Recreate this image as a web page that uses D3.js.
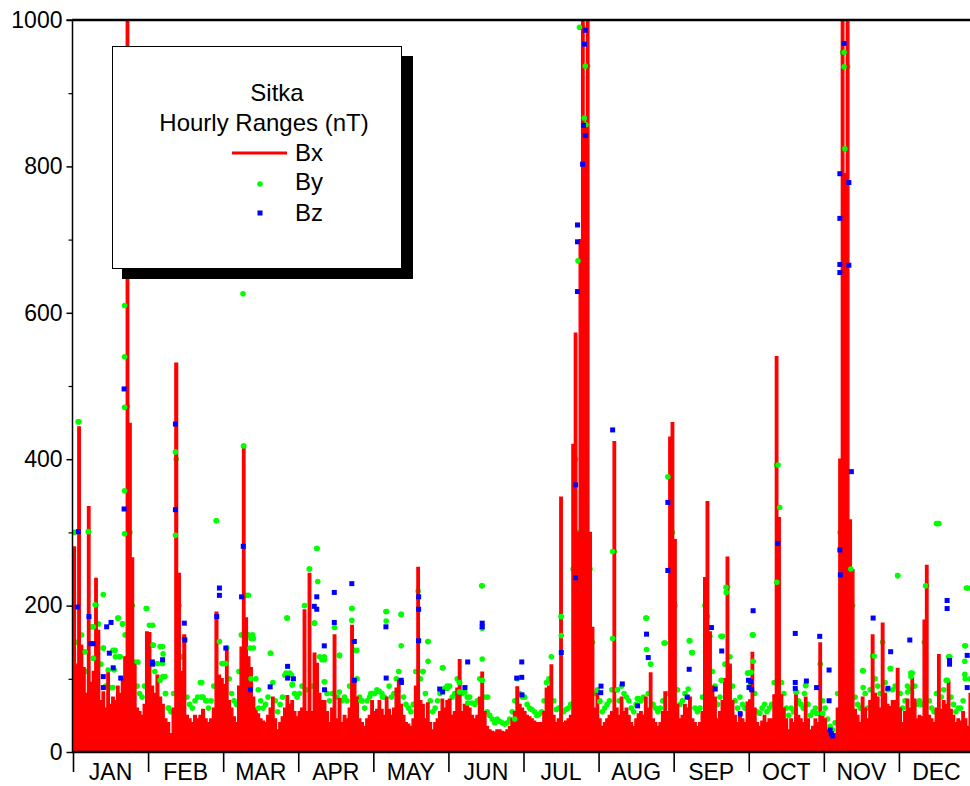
<!DOCTYPE html>
<html>
<head>
<meta charset="utf-8">
<script src="https://cdn.jsdelivr.net/npm/d3@7/dist/d3.min.js"></script>
<style>
  html, body { margin: 0; padding: 0; background: #fff; }
  svg { display: block; font-family: "Liberation Sans", Arial, sans-serif; }
</style>
</head>
<body>
<svg id="chart" width="970" height="786"></svg>
<script>
// ---------- DATA ----------
const months = ["JAN","FEB","MAR","APR","MAY","JUN","JUL","AUG","SEP","OCT","NOV","DEC"];
const daysInMonth = [31,28,31,30,31,30,31,31,30,31,30,31];
const yTicks = [0, 200, 400, 600, 800, 1000];
const title = ["Sitka", "Hourly Ranges (nT)"];
const seriesNames = ["Bx", "By", "Bz"];

// Bx: daily maximum of hourly ranges (nT), one value per day
const bxJan = [280,120,444,146,115,80,335,95,110,237,166,70,82,60,108,65,75,70,90,80,100,130,1100,449,265,120,60,55,50,65,164];
const bxFeb = [163,90,80,105,75,65,45,40,25,60,531,244,110,160,50,45,40,50,45,50,58,45,40,45,60,191,105,100];
const bxMar = [92,139,70,60,48,40,90,143,419,183,130,115,75,60,52,45,42,40,50,60,75,45,30,40,48,60,77,65,70,55,48];
const bxApr = [55,60,194,55,244,55,135,121,80,70,70,55,40,60,160,45,73,40,50,45,60,173,98,75,45,40,35,45,50,70];
const bxMay = [55,58,70,58,50,75,58,50,60,87,98,65,50,40,38,35,45,90,252,70,65,45,67,40,30,40,45,55,72,60,70];
const bxJun = [72,50,55,87,126,55,65,67,60,50,45,50,75,109,55,35,30,28,27,30,30,28,27,30,35,45,55,89,65,60];
const bxJul = [55,50,48,45,42,40,40,40,55,87,90,119,50,40,45,348,40,42,45,50,420,572,300,700,1100,860,1100,300,170,60,80];
const bxAug = [45,35,40,45,50,55,424,60,50,75,55,60,50,40,35,45,52,55,50,75,60,108,45,40,35,40,55,82,55,430,450];
const bxSep = [290,65,45,50,65,60,75,45,40,35,40,55,238,342,164,90,75,45,55,70,100,266,120,70,50,40,55,45,40,68];
const bxOct = [71,136,60,40,35,42,50,40,45,45,78,540,320,78,60,45,30,45,40,85,50,45,40,75,45,30,35,45,40,149,55];
const bxNov = [45,30,25,20,25,60,400,1100,790,1100,317,249,58,50,40,75,60,45,70,160,80,75,60,176,80,65,62,70,70,114];
const bxDec = [60,40,55,72,60,101,72,45,50,48,180,255,50,45,40,60,133,58,70,65,97,58,50,40,45,42,55,45,35,80,70];

// By: daily maximum of hourly ranges (nT)
const byJan = [300,150,451,160,137,110,301,171,128,201,175,120,142,90,112,88,139,130,183,130,175,160,472,300,200,123,90,80,75,90,196];
const byFeb = [173,146,110,121,144,103,80,60,55,80,400,200,130,155,75,65,60,70,75,95,75,70,60,70,90,316,151,121];
const byMar = [121,142,100,80,70,65,110,160,418,214,160,155,142,100,85,70,60,65,75,135,95,70,55,65,75,105,183,108,92,80,75];
const byApr = [80,90,200,85,250,90,176,278,130,126,96,80,70,80,170,75,132,70,75,70,90,196,139,100,75,70,60,70,75,80];
const byMay = [80,85,83,80,75,192,90,75,80,100,110,188,75,65,60,55,65,110,220,100,110,80,151,70,55,60,70,80,115,87,90];
const byJun = [90,75,80,100,95,80,82,75,75,67,65,70,100,227,75,55,50,45,40,45,42,40,38,40,45,55,70,100,80,75];
const byJul = [75,65,60,58,55,50,52,55,70,95,100,130,70,58,60,185,55,58,60,65,250,400,300,671,990,866,937,250,150,80,85];
const byAug = [70,55,60,65,70,85,274,85,70,90,80,75,70,60,55,65,73,70,75,183,80,120,65,60,55,60,70,149,80,376,300];
const bySep = [200,85,65,70,80,75,152,136,60,55,60,75,200,185,158,110,90,65,75,158,120,225,130,90,70,60,75,65,60,108];
const byOct = [90,160,80,55,53,60,65,55,60,65,95,392,334,95,80,60,50,60,55,82,70,65,60,91,65,50,55,60,53,120,70];
const byNov = [60,45,35,30,40,80,300,956,824,936,250,200,75,65,60,111,80,60,85,131,100,90,80,150,95,85,114,85,90,241];
const byDec = [80,60,70,90,85,108,90,65,70,65,150,227,70,60,55,80,312,75,85,98,130,75,65,55,60,60,70,145,224,100,90];

// By: other notable hourly values  [month index, day position in month, nT]
const byHours = [
  [0,2.1,451],[0,12.5,215],[0,18.7,183],[0,20.4,175],[0,17.4,139],[0,19.1,130],[0,12.5,142],[0,8.4,171],[0,9.1,201],
  [0,6.3,301],[0,5,137],[0,8.4,128],[0,17,112],[0,16.5,88],[0,26.8,123],[0,30.2,196],[0,21.3,540],[0,21.3,471],
  [0,21.3,357],[0,21.3,298],[0,21.3,610],
  [1,1.7,173],[1,1.9,146],[1,5.4,144],[1,5.6,134],[1,5.4,121],[1,4.5,98],[1,6.3,103],[1,6.5,80],[1,7.7,60],[1,20,95],
  [1,19.8,75],[1,21.9,70],[1,25.4,316],[1,26.6,151],[1,10.2,410],[1,10.2,296],
  [2,0,121],[2,1.1,121],[2,8.2,626],[2,8.4,418],[2,10.4,214],[2,12.2,160],[2,12.5,155],[2,11.1,142],[2,11.5,100],
  [2,14.6,60],[2,19.6,135],[2,26.3,183],[2,28.2,105],[2,26,108],[2,28.6,92],
  [3,7.4,278],[3,4.4,250],[3,7.8,233],[3,6.4,176],[3,10.4,130],[3,10.5,126],[3,10.4,96],[3,16.4,132],[3,21.4,196],
  [3,21.4,180],[3,23.4,139],[3,16.4,82],[3,29,80],[3,25,70],
  [4,2,83],[4,5.2,192],[4,5.3,179],[4,11.5,188],[4,11.5,145],[4,3.7,75],[4,22.6,151],[4,22.6,124],[4,20.5,110],
  [4,28.8,115],[4,30.5,87],
  [5,4.3,95],[5,4.4,82],[5,7.7,67],[5,13.3,227],[5,13.5,169],[5,13.5,127],[5,13.5,98],[5,15.7,75],[5,26.5,45],
  [6,15.6,185],[6,15.6,159],[6,23.1,990],[6,25.5,937],[6,25.1,866],[6,25.8,857],[6,22.5,671],
  [7,19.8,183],[7,19.8,140],[7,27,149],[7,28.6,376],[7,0.5,69],[7,7.8,85],[7,16,73],[7,5.8,274],[7,5.8,155],
  [8,6.2,152],[8,7.2,136],[8,5.8,86],[8,18.9,158],[8,20.9,225],[8,21,218],[8,19,98],[8,29.9,108],
  [9,1.8,160],[9,1.8,124],[9,1.0,109],[9,4.5,53],[9,12.8,334],[9,12.1,392],[9,11.6,232],[9,19.6,82],[9,23.5,91],
  [9,23.0,80],[9,28,53],[9,30.5,53],
  [10,8.1,956],[10,8.1,936],[10,8.4,824],[10,10.8,250],[10,15.7,111],[10,15.7,88],[10,20.1,131],[10,26.7,114],[10,29.5,241],
  [11,4.9,108],[11,5,103],[11,3.6,82],[11,11,227],[11,15.5,312],[11,20,98],[11,21,130],[11,27.2,145],[11,27.9,224],
  [11,27.2,124],[11,27.2,106],[11,27.4,100]
];

// Bz: notable hourly values  [month index, day position in month, nT]
const bzHours = [
  [0,2.2,301],[0,1.8,198],[0,6.6,185],[0,7.4,148],[0,8.3,148],[0,12.5,103],[0,13.9,171],[0,15.7,177],[0,15,135],
  [0,16.6,115],[0,19.7,101],[0,21.1,496],[0,21.1,332],[0,12.5,88],
  [1,1.6,123],[1,1.7,120],[1,5.4,126],[1,10.2,448],[1,10.2,331],[1,13.5,176],[1,13.7,153],[1,26.6,224],[1,26.6,214],[1,25.6,185],
  [2,1.1,142],[2,8.3,281],[2,7.6,212],[2,11.3,85],[2,19.4,89],[2,26.6,117],[2,26.6,101],[2,29,100],
  [3,6.4,199],[3,7.4,212],[3,7.4,195],[3,14.4,218],[3,14.4,177],[3,10.4,145],[3,10.5,85],[3,21.4,230],[3,22.4,151],[3,22.4,98],
  [4,5.2,171],[4,5.3,101],[4,11.5,98],[4,11.6,95],[4,18.7,212],[4,18.7,195],[4,18.7,152],[4,27.4,86],[4,28.6,82],
  [5,6.6,88],[5,7.7,123],[5,13.5,176],[5,13.5,171],[5,29.3,123],[5,27.3,101],[5,29.3,102],[5,29.4,78],
  [6,15.6,136],[6,21.5,365],[6,21.5,238],[6,25.5,986],[6,25.2,967],[6,24.8,856],[6,25.5,842],[6,24.4,803],
  [6,22.3,720],[6,22.3,697],[6,22.3,629],
  [7,5.8,440],[7,1,90],[7,0.9,81],[7,9.8,93],[7,19.8,161],[7,20.5,129],[7,16.1,63],[7,28.6,341],[7,28.6,248],
  [8,6.2,113],[8,5.4,75],[8,15.1,170],[8,19.2,138],[8,16.6,86],[8,29.9,98],[8,26.6,52],
  [9,0.1,88],[9,1.8,193],[9,0.8,96],[9,1.2,85],[9,12,285],[9,19.2,162],[9,19.2,95],[9,19.2,87],[9,23.8,97],
  [9,29.3,158],[9,28.0,88],
  [10,2.1,112],[10,2.1,70],[10,2.5,30],[10,3,25],[10,3.5,22],[10,11,383],[10,19.7,183],[10,26.7,137],[10,25.6,87],
  [10,6.4,276],[10,6.6,242],[10,8.1,968],[10,6.4,790],[10,10,778],[10,6.4,729],[10,6.4,666],[10,10,665],[10,6.4,655],
  [11,4.5,153],[11,19.9,207],[11,19.9,196],[11,20.9,120],[11,20.9,125],[11,28.2,132],[11,28.2,88]
];

const bxMonths = [bxJan,bxFeb,bxMar,bxApr,bxMay,bxJun,bxJul,bxAug,bxSep,bxOct,bxNov,bxDec];
const byMonths = [byJan,byFeb,byMar,byApr,byMay,byJun,byJul,byAug,bySep,byOct,byNov,byDec];

// ---------- BUILD ----------
const svg = d3.select("#chart");
const W = 970, H = 786;
const m = {left: 73, right: -4, top: 20, bottom: 34};
const x = d3.scaleLinear().domain([0, 12]).range([m.left, W - m.right]);
const y = d3.scaleLinear().domain([0, 1000]).range([H - m.bottom, m.top]);

function daily(arrs) {
  const out = [];
  arrs.forEach((arr, mi) => {
    const nd = daysInMonth[mi];
    arr.forEach((v, d) => out.push({t: mi + (d + 0.5) / nd, v}));
  });
  return out;
}
const bx = daily(bxMonths);
const by = daily(byMonths);
const tOf = (mi, d) => mi + d / daysInMonth[mi];

svg.append("defs").append("clipPath").attr("id", "plot")
  .append("rect").attr("x", m.left).attr("y", m.top)
  .attr("width", W - m.left).attr("height", y(0) - m.top);

const g = svg.append("g").attr("clip-path", "url(#plot)");

// By daily maxima (behind Bx)
g.append("g").selectAll("circle").data(by).join("circle")
  .attr("cx", d => x(d.t)).attr("cy", d => y(d.v)).attr("r", 2.8)
  .attr("fill", "#00ff00");

// Bx
const bxExt = [{t: 0, v: bx[0].v}, ...bx, {t: 12, v: bx[bx.length - 1].v}];
g.append("path").datum(bxExt)
  .attr("d", d3.area().x(d => x(d.t)).y0(y(0)).y1(d => y(d.v)).curve(d3.curveStep))
  .attr("fill", "#ff0000");
g.append("path").datum(bxExt)
  .attr("d", d3.line().x(d => x(d.t)).y(d => y(d.v)).curve(d3.curveStep))
  .attr("fill", "none").attr("stroke", "#ff0000").attr("stroke-width", 1.4);

// By hourly points on top
g.append("g").selectAll("circle").data(byHours).join("circle")
  .attr("cx", d => x(tOf(d[0], d[1]))).attr("cy", d => y(d[2])).attr("r", 2.8)
  .attr("fill", "#00ff00");

// Bz squares
g.append("g").selectAll("rect").data(bzHours).join("rect")
  .attr("x", d => x(tOf(d[0], d[1])) - 2.5).attr("y", d => y(d[2]) - 2.5)
  .attr("width", 5).attr("height", 5).attr("fill", "#0000ff");

// ---------- AXES ----------
const yAxis = svg.append("g").attr("transform", `translate(${m.left - 0.5},0)`)
  .call(d3.axisLeft(y).tickValues(yTicks).tickSize(6).tickPadding(4).tickFormat(d3.format("d")));
yAxis.select(".domain").attr("stroke", "#000").attr("stroke-width", 1.5);
yAxis.selectAll(".tick line").attr("stroke", "#000").attr("stroke-width", 1.5);
yAxis.selectAll(".tick text").attr("font-size", 23).attr("fill", "#000")
  .attr("font-family", "'Liberation Sans', Arial, sans-serif");
yAxis.select(".domain").attr("d", `M-6,${y(1000)}H0V${y(0)}`);

const yMinor = svg.append("g").attr("transform", `translate(${m.left - 0.5},0)`)
  .call(d3.axisLeft(y).tickValues(d3.range(100, 1000, 200)).tickSize(4).tickFormat(""));
yMinor.select(".domain").remove();
yMinor.selectAll(".tick line").attr("stroke", "#000").attr("stroke-width", 1.2);

// top frame
svg.append("line").attr("x1", m.left - 1).attr("x2", W).attr("y1", y(1000)).attr("y2", y(1000))
  .attr("stroke", "#000").attr("stroke-width", 2.5);
// bottom axis
svg.append("line").attr("x1", m.left - 1).attr("x2", W).attr("y1", y(0)).attr("y2", y(0))
  .attr("stroke", "#000").attr("stroke-width", 2.5);

const xAxis = svg.append("g").attr("transform", `translate(0,${y(0)})`)
  .call(d3.axisBottom(x).tickValues(d3.range(0, 12)).tickSize(20).tickFormat(""));
xAxis.select(".domain").remove();
xAxis.selectAll(".tick line").attr("stroke", "#000").attr("stroke-width", 1.6);

svg.append("g").selectAll("text").data(months).join("text")
  .attr("x", (d, i) => x(i + 0.5)).attr("y", y(0) + 28)
  .attr("text-anchor", "middle").attr("font-size", 23).attr("fill", "#000")
  .text(d => d);

// ---------- LEGEND ----------
const lg = svg.append("g");
lg.append("rect").attr("x", 122).attr("y", 56).attr("width", 291).attr("height", 223).attr("fill", "#000");
lg.append("rect").attr("x", 112.5).attr("y", 46.5).attr("width", 289).attr("height", 222)
  .attr("fill", "#fff").attr("stroke", "#000").attr("stroke-width", 1);
lg.append("text").attr("x", 277).attr("y", 101).attr("text-anchor", "middle").attr("font-size", 24).text(title[0]);
lg.append("text").attr("x", 264).attr("y", 131).attr("text-anchor", "middle").attr("font-size", 24).text(title[1]);
lg.append("line").attr("x1", 232).attr("x2", 287).attr("y1", 153).attr("y2", 153)
  .attr("stroke", "#ff0000").attr("stroke-width", 3);
lg.append("circle").attr("cx", 260).attr("cy", 184).attr("r", 2.8).attr("fill", "#00ff00");
lg.append("rect").attr("x", 257.5).attr("y", 210.5).attr("width", 5).attr("height", 5).attr("fill", "#0000ff");
[161, 190, 221].forEach((yy, i) => {
  lg.append("text").attr("x", 295).attr("y", yy).attr("font-size", 24).text(seriesNames[i]);
});
</script>
</body>
</html>
